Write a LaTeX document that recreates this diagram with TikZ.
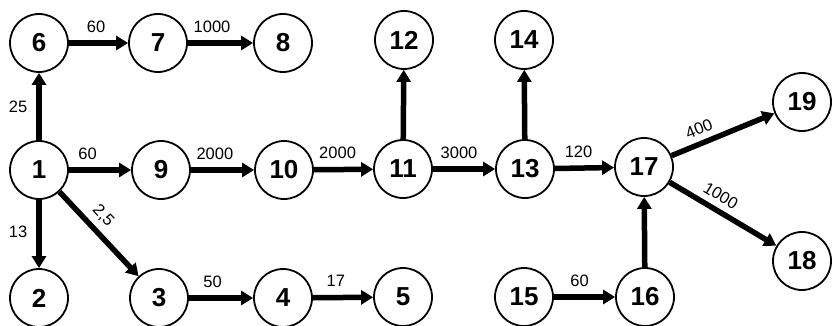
\documentclass[tikz,border=0pt]{standalone}
\usepackage{fontspec}
\setmainfont{Liberation Sans}
\usetikzlibrary{arrows.meta}
\tikzset{
  vert/.style={circle,draw,line width=1.8pt,minimum size=58pt,inner sep=0pt,font=\fontsize{26}{26}\selectfont\bfseries},
  flow/.style={line width=5.5pt,-{Triangle[length=12pt,width=14pt]}},
  wt/.style={font=\fontsize{16.5}{16.5}\selectfont,inner sep=1pt},
}
\begin{document}
\begin{tikzpicture}[x=1pt,y=-1pt]
\useasboundingbox (0,0) rectangle (832,326);
\node[vert] (n6) at (39,43) {6};
\node[vert] (n7) at (158,43) {7};
\node[vert] (n8) at (283,43) {8};
\node[vert] (n12) at (404,40) {12};
\node[vert] (n14) at (524,40) {14};
\node[vert] (n19) at (802,102) {19};
\node[vert] (n1) at (39,170) {1};
\node[vert] (n9) at (161,170) {9};
\node[vert] (n10) at (284,170) {10};
\node[vert] (n11) at (403,169) {11};
\node[vert] (n13) at (525,169) {13};
\node[vert] (n17) at (644,167) {17};
\node[vert] (n18) at (802,261) {18};
\node[vert] (n2) at (39,298) {2};
\node[vert] (n3) at (159,298) {3};
\node[vert] (n4) at (283,298) {4};
\node[vert] (n5) at (403,297) {5};
\node[vert] (n15) at (524,297) {15};
\node[vert] (n16) at (645,297) {16};

\draw[flow] (n6) -- node[wt,pos=0.46,above=7pt]{60} (n7);
\draw[flow] (n7) -- node[wt,pos=0.37,above=7pt]{1000} (n8);
\draw[flow] (n1) -- node[wt,pos=0.3,above=7pt]{60} (n9);
\draw[flow] (n9) -- node[wt,pos=0.38,above=7pt]{2000} (n10);
\draw[flow] (n10) -- node[wt,pos=0.4,above=7pt]{2000} (n11);
\draw[flow] (n11) -- node[wt,pos=0.42,above=7pt]{3000} (n13);
\draw[flow] (n13) -- node[wt,pos=0.4,above=7pt]{120} (n17);
\draw[flow] (n3) -- node[wt,pos=0.37,above=7pt]{50} (n4);
\draw[flow] (n4) -- node[wt,pos=0.38,above=7pt]{17} (n5);
\draw[flow] (n15) -- node[wt,pos=0.42,above=7pt]{60} (n16);
\draw[flow] (n1) -- node[wt,pos=0.49,left=8pt]{25} (n6);
\draw[flow] (n1) -- node[wt,pos=0.47,left=8pt]{13} (n2);
\draw[flow] (n1) -- node[wt,pos=0.41,above=5pt,sloped]{2,5} (n3);
\draw[flow] (n11) -- (n12);
\draw[flow] (n13) -- (n14);
\draw[flow] (n16) -- (n17);
\draw[flow] (n17) -- node[wt,pos=0.32,above=5pt,sloped]{400} (n19);
\draw[flow] (n17) -- node[wt,pos=0.41,above=5pt,sloped]{1000} (n18);
\end{tikzpicture}
\end{document}
